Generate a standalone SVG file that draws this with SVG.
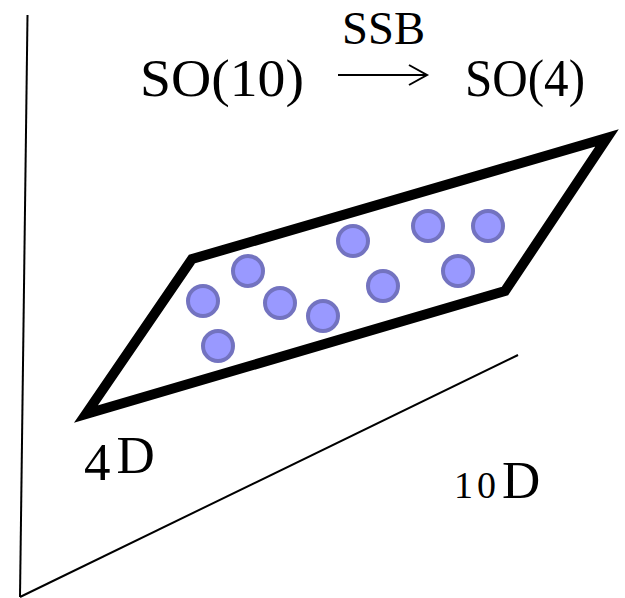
<svg xmlns="http://www.w3.org/2000/svg" width="625" height="598" viewBox="0 0 625 598">
<style>
.t{font-family:"Liberation Serif","Times New Roman",serif;fill:#000}
.dot{fill:#9999ff;stroke:#7373c0;stroke-width:4}
.ax{stroke:#000;stroke-width:2;fill:none}
</style>
<rect width="625" height="598" fill="#fff"/>
<g id="axes">
<line class="ax" x1="27.5" y1="15" x2="20" y2="597"/>
<line class="ax" x1="20" y1="597" x2="518" y2="355"/>
</g>
<g id="brane">
<polygon points="86,414 192,259 607,138 505,291" fill="none" stroke="#000" stroke-width="10" stroke-linejoin="miter" stroke-miterlimit="10"/>
</g>
<g id="particles">
<circle class="dot" cx="353" cy="241" r="15"/>
<circle class="dot" cx="428" cy="226" r="15"/>
<circle class="dot" cx="488" cy="226" r="15"/>
<circle class="dot" cx="248" cy="271" r="15"/>
<circle class="dot" cx="203" cy="301" r="15"/>
<circle class="dot" cx="280" cy="303" r="15"/>
<circle class="dot" cx="323" cy="316" r="15"/>
<circle class="dot" cx="218" cy="346" r="15"/>
<circle class="dot" cx="383" cy="286" r="15"/>
<circle class="dot" cx="458" cy="271" r="15"/>
</g>
<g id="symmetry">
<text class="t" x="342" y="44" font-size="46" textLength="83" lengthAdjust="spacingAndGlyphs">SSB</text>
<text class="t" x="140" y="96" font-size="52" textLength="164" lengthAdjust="spacingAndGlyphs">SO(10)</text>
<text class="t" x="465" y="96" font-size="52" textLength="120" lengthAdjust="spacingAndGlyphs">SO(4)</text>
<g id="arrow" fill="none" stroke="#000" stroke-width="2">
<line x1="338" y1="75" x2="426" y2="75"/>
<path d="M409,65 L427,75 L409,85"/>
</g>
</g>
<g id="labels">
<text class="t" x="84" y="473" font-size="53"><tspan dy="7">4</tspan><tspan dy="-7" dx="6">D</tspan></text>
<text class="t" x="454" y="498" font-size="53"><tspan font-size="38" letter-spacing="4">10</tspan><tspan dx="2">D</tspan></text>
</g>
</svg>
